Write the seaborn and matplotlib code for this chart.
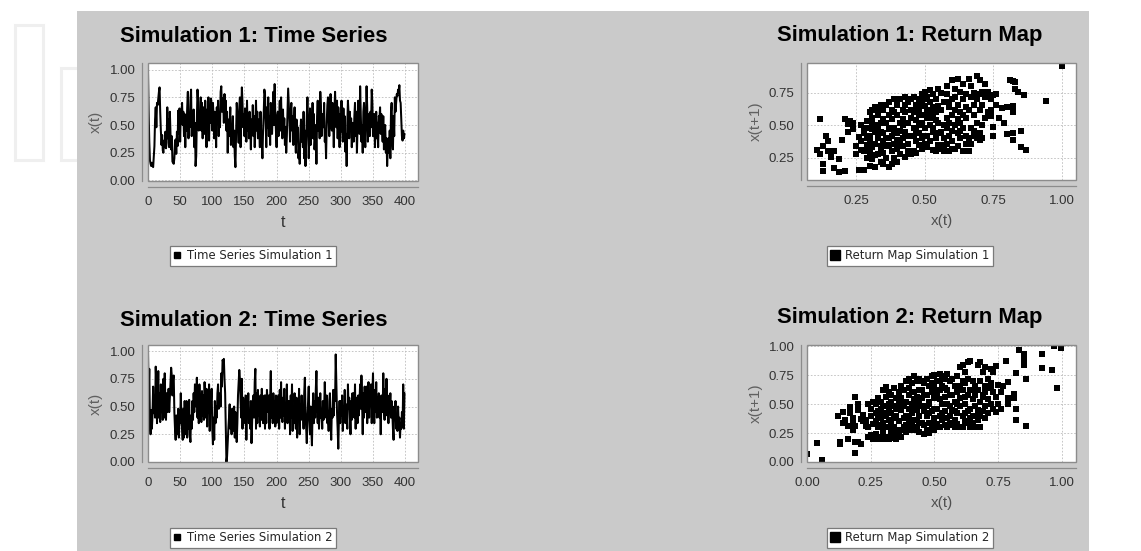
import numpy as np
import pandas as pd
import seaborn as sns
import matplotlib
matplotlib.use("Agg")
import matplotlib.pyplot as plt
from matplotlib.patches import Rectangle
from matplotlib.lines import Line2D

# ---------------- data ----------------
sim1_ts = [
    .98, .62, .35, .18, .15, .13, .16, .14, .12, .22, .31, .55, .66, .48, .70, .68, .74, .80, .84, .62,
    .45, .32, .41, .27, .25, .36, .30, .44, .29, .34, .66, .38, .55, .30, .62, .42, .28, .40, .17, .16,
    .15, .20, .35, .37, .24, .44, .31, .63, .42, .65, .35, .62, .56, .70, .50, .62, .40, .60, .30, .58,
    .45, .66, .80, .38, .60, .48, .72, .82, .40, .58, .44, .64, .30, .52, .13, .22, .55, .82, .70, .45,
    .62, .52, .75, .45, .70, .38, .66, .58, .42, .72, .55, .30, .64, .48, .75, .36, .60, .52, .74, .66,
    .45, .70, .58, .38, .62, .52, .30, .66, .55, .72, .40, .60, .48, .80, .85, .62, .74, .70, .52, .78,
    .60, .72, .45, .62, .25, .55, .40, .50, .66, .32, .48, .42, .58, .30, .45, .22, .12, .40, .70, .60,
    .52, .34, .66, .75, .30, .58, .84, .70, .48, .60, .40, .65, .55, .35, .72, .45, .60, .38, .62, .50,
    .28, .55, .42, .68, .40, .58, .30, .52, .72, .45, .62, .38, .55, .48, .30, .62, .42, .35, .20, .45,
    .60, .82, .78, .52, .30, .66, .48, .75, .40, .58, .32, .70, .55, .42, .62, .80, .50, .87, .60, .45,
    .30, .58, .62, .40, .55, .72, .45, .75, .50, .38, .64, .42, .56, .32, .48, .25, .40, .62, .83, .70,
    .55, .35, .62, .70, .45, .58, .32, .52, .66, .42, .25, .55, .38, .48, .20, .30, .15, .42, .55, .35,
    .52, .30, .62, .20, .45, .13, .35, .58, .75, .50, .20, .40, .65, .32, .55, .45, .70, .38, .60, .28,
    .40, .50, .15, .58, .72, .45, .62, .38, .80, .66, .40, .55, .60, .48, .70, .35, .42, .20, .52, .68,
    .75, .55, .40, .62, .78, .50, .45, .70, .55, .30, .62, .80, .58, .48, .72, .38, .66, .55, .30, .60,
    .44, .72, .50, .35, .65, .40, .58, .26, .42, .13, .50, .72, .60, .38, .62, .48, .56, .30, .52, .44,
    .35, .58, .70, .40, .62, .25, .48, .72, .55, .42, .85, .60, .35, .50, .25, .62, .70, .45, .30, .58,
    .85, .66, .35, .52, .60, .40, .62, .48, .82, .70, .40, .55, .60, .30, .45, .62, .38, .52, .30, .58,
    .55, .66, .42, .60, .48, .35, .58, .28, .45, .50, .25, .38, .13, .30, .38, .25, .45, .20, .62, .70,
    .35, .28, .58, .40, .75, .62, .70, .78, .76, .82, .80, .86, .72, .70, .55, .40, .36, .45, .38, .42,
]
sim2_ts = [
    .99, .62, .84, .35, .25, .47, .30, .42, .68, .44, .58, .40, .86, .70, .35, .55, .82, .40, .62, .36,
    .70, .45, .58, .38, .75, .40, .80, .55, .38, .62, .45, .52, .66, .45, .58, .70, .85, .78, .60, .75,
    .78, .45, .30, .20, .42, .30, .25, .48, .22, .40, .35, .62, .40, .30, .20, .48, .22, .55, .35, .25,
    .55, .22, .48, .30, .56, .25, .18, .42, .30, .55, .38, .62, .45, .70, .66, .50, .76, .40, .65, .35,
    .70, .45, .58, .36, .64, .42, .60, .38, .72, .55, .40, .66, .32, .58, .45, .70, .28, .62, .55, .66,
    .30, .16, .40, .20, .55, .35, .50, .40, .62, .70, .48, .55, .62, .50, .80, .68, .92, .90, .93, .75,
    .62, .30, .00, .05, .18, .30, .40, .52, .30, .45, .25, .48, .28, .40, .50, .22, .45, .30, .18, .35,
    .60, .72, .83, .75, .55, .40, .75, .30, .58, .45, .55, .35, .60, .20, .50, .40, .62, .35, .45, .30,
    .55, .17, .35, .55, .60, .40, .72, .84, .30, .62, .35, .65, .42, .58, .32, .60, .38, .66, .45, .35,
    .40, .60, .30, .60, .35, .65, .55, .45, .60, .30, .55, .82, .40, .58, .35, .62, .42, .55, .32, .60,
    .35, .55, .42, .60, .30, .65, .40, .72, .45, .36, .58, .42, .66, .30, .52, .40, .70, .35, .55, .45,
    .55, .25, .60, .40, .70, .28, .50, .35, .62, .45, .30, .58, .22, .48, .40, .66, .25, .52, .38, .60,
    .42, .50, .30, .62, .76, .45, .30, .17, .40, .55, .68, .38, .25, .50, .30, .15, .45, .62, .35, .55,
    .40, .65, .82, .50, .35, .58, .30, .45, .62, .40, .45, .30, .55, .38, .48, .72, .52, .40, .60, .35,
    .45, .28, .55, .62, .35, .20, .48, .40, .65, .42, .65, .55, .97, .70, .45, .30, .12, .40, .55, .35,
    .55, .42, .60, .28, .50, .40, .65, .35, .52, .45, .30, .70, .48, .58, .40, .25, .55, .38, .62, .45,
    .62, .40, .70, .30, .58, .45, .35, .60, .42, .55, .70, .48, .78, .55, .25, .62, .40, .68, .45, .52,
    .68, .35, .58, .72, .40, .62, .55, .70, .35, .60, .80, .50, .35, .65, .45, .72, .40, .58, .48, .62,
    .40, .55, .25, .60, .52, .45, .80, .52, .38, .66, .45, .75, .42, .60, .35, .58, .48, .62, .40, .55,
    .45, .30, .20, .50, .38, .55, .30, .42, .28, .50, .35, .40, .22, .35, .30, .45, .32, .70, .30, .62,
]

rm1_x = [
    .12, .11, .12, .13, .13, .13, .14, .15, .15, .16, .17, .17, .19, .19, .20, .21, .21, .22, .22, .23, .24, .24, .25, .25, .26,
    .27, .27, .28, .28, .28, .29, .29, .29, .30, .30, .30, .30, .31, .31, .31, .31, .32, .32, .32, .32, .33, .33, .33, .33,
    .34, .34, .34, .34, .35, .35, .35, .35, .28, .29, .30, .31, .32, .33, .34, .35, .26, .27, .29, .30, .31, .33, .34, .35,
    .36, .36, .36, .36, .37, .37, .37, .37, .37, .38, .38, .38, .38, .38, .39, .39, .39, .39, .40, .40,
    .40, .40, .40, .41, .41, .41, .41, .42, .42, .42, .42, .43, .43, .43, .43, .44, .44, .44, .44, .45,
    .45, .45, .45, .36, .37, .38, .39, .40, .41, .42, .43, .44, .45, .39, .41,
    .46, .46, .46, .46, .47, .47, .47, .47, .48, .48, .48, .48, .48, .49, .49, .49, .49, .50, .50, .50,
    .50, .50, .51, .51, .51, .51, .52, .52, .52, .52, .53, .53, .53, .53, .54, .54, .54, .54, .55, .55,
    .55, .55, .46, .47, .48, .49, .50, .51, .52, .53, .54, .55, .47, .50, .53,
    .56, .56, .56, .56, .57, .57, .57, .57, .58, .58, .58, .58, .59, .59, .59, .59, .60, .60, .60, .60,
    .60, .61, .61, .61, .61, .62, .62, .62, .62, .63, .63, .63, .63, .64, .64, .64, .64, .65, .65, .65,
    .65, .58, .60, .62, .64, .57, .61, .63, .65, .59,
    .66, .66, .66, .66, .67, .67, .67, .67, .68, .68, .68, .68, .69, .69, .69, .69, .70, .70, .70, .70,
    .71, .71, .71, .71, .72, .72, .72, .73, .73, .73, .74, .74, .74, .75, .75, .75, .76, .76, .68, .70,
    .78, .80, .81, .82, .83, .82, .80, .82, .82, .85, .85, .87, .83, .84, .86, .82, .94, 1.0, .77, .79,
]
rm1_y = [
    .55, .31, .28, .34, .20, .15, .42, .38, .30, .26, .30, .17, .24, .14, .39, .15, .55, .51, .45, .53, .52, .47, .34, .28, .16,
    .50, .38, .16, .30, .44, .25, .48, .35, .60, .19, .42, .28, .62, .33, .52, .24, .64, .45, .36, .18, .58, .40, .28, .50,
    .66, .30, .45, .22, .62, .38, .55, .20, .48, .40, .32, .56, .27, .46, .34, .44, .41, .31, .53, .37, .47, .61, .52, .29,
    .66, .40, .25, .52, .68, .35, .18, .47, .58, .20, .42, .62, .30, .55, .36, .70, .25, .48, .66, .32,
    .44, .58, .22, .38, .70, .52, .28, .62, .40, .34, .55, .72, .45, .26, .60, .68, .36, .52, .30, .70,
    .42, .62, .28, .34, .40, .48, .44, .39, .46, .50, .66, .42, .56, .60, .35,
    .72, .48, .30, .60, .66, .38, .54, .29, .70, .44, .58, .35, .62, .74, .40, .52, .32, .76, .48, .36,
    .65, .58, .72, .42, .62, .33, .68, .50, .38, .77, .74, .45, .56, .31, .70, .40, .60, .30, .78, .52,
    .65, .35, .42, .62, .50, .66, .42, .56, .60, .48, .54, .44, .46, .70, .64,
    .75, .45, .32, .62, .68, .50, .30, .40, .74, .56, .36, .80, .64, .42, .30, .52, .85, .70, .38, .46,
    .58, .78, .32, .62, .50, .86, .44, .66, .34, .76, .52, .40, .60, .82, .30, .70, .48, .74, .56, .36,
    .64, .48, .32, .55, .58, .35, .72, .46, .42, .68,
    .86, .62, .40, .30, .72, .48, .36, .80, .66, .42, .58, .75, .88, .52, .40, .70, .74, .44, .62, .85,
    .76, .50, .40, .66, .82, .72, .56, .74, .60, .76, .70, .57, .62, .73, .49, .42, .74, .66, .46, .39,
    .63, .64, .85, .84, .83, .60, .43, .44, .39, .46, .33, .31, .78, .76, .73, .65, .69, .955, .56, .52,
]

rm2_x = [
    .00, .04, .06, .19, .13, .13, .16, .19, .20, .21, .12, .14, .14,
    .16, .18, .17, .19, .20, .19, .22, .23, .24, .25, .17, .18, .21, .22, .24, .25, .26, .23, .20, .26, .15, .18, .24, .25, .26,
    .27, .27, .27, .28, .28, .28, .28, .29, .29, .29, .29, .30, .30, .30, .30, .30, .31, .31, .31, .31,
    .32, .32, .32, .32, .32, .33, .33, .33, .33, .34, .34, .34, .34, .35, .35, .35, .35, .36, .36, .36,
    .36, .28, .29, .30, .31, .32, .33, .34, .35, .36, .27, .30, .33, .34, .31,
    .37, .37, .37, .37, .38, .38, .38, .38, .39, .39, .39, .39, .40, .40, .40, .40, .40, .41, .41, .41,
    .41, .42, .42, .42, .42, .43, .43, .43, .43, .44, .44, .44, .44, .45, .45, .45, .45, .46, .46, .46,
    .46, .38, .40, .42, .44, .46, .39, .41, .43, .45, .37, .42, .44, .40, .43,
    .47, .47, .47, .47, .48, .48, .48, .48, .49, .49, .49, .49, .50, .50, .50, .50, .50, .51, .51, .51,
    .51, .52, .52, .52, .52, .53, .53, .53, .53, .54, .54, .54, .54, .55, .55, .55, .55, .56, .56, .56,
    .56, .48, .50, .52, .54, .56, .47, .49, .51, .53, .55, .50, .52, .54, .48,
    .57, .57, .57, .57, .58, .58, .58, .58, .59, .59, .59, .59, .60, .60, .60, .60, .61, .61, .61, .61,
    .62, .62, .62, .62, .62, .63, .63, .63, .63, .64, .64, .64, .64, .65, .65, .65, .65, .66, .66, .66,
    .66, .58, .60, .62, .64, .66, .59, .61, .63, .65,
    .67, .67, .67, .67, .68, .68, .68, .68, .69, .69, .69, .70, .70, .70, .70, .71, .71, .71, .72, .72,
    .72, .73, .73, .73, .74, .74, .74, .75, .75, .76, .76, .68, .70, .72, .69,
    .77, .78, .79, .79, .79, .81, .81, .82, .82, .82, .83, .85, .85, .85, .86, .86, .92, .92, .96, .97, .995, .98,
]
rm2_y = [
    .07, .16, .02, .08, .155, .17, .20, .175, .17, .155, .40, .43, .34,
    .31, .38, .475, .557, .50, .31, .41, .31, .50, .23, .42, .33, .37, .35, .30, .40, .20, .36, .45, .33, .36, .28, .22, .46, .52,
    .35, .50, .24, .44, .30, .20, .55, .38, .52, .22, .46, .62, .34, .20, .48, .28, .65, .40, .22, .56,
    .60, .30, .45, .20, .36, .52, .26, .42, .58, .64, .22, .38, .48, .55, .28, .20, .46, .60, .35, .24,
    .50, .40, .32, .42, .30, .50, .35, .30, .40, .22, .42, .26, .21, .26, .48,
    .66, .45, .28, .55, .62, .30, .48, .38, .70, .26, .52, .40, .72, .35, .58, .28, .46, .68, .32, .50,
    .42, .74, .36, .60, .28, .70, .45, .56, .30, .72, .40, .62, .26, .70, .34, .55, .48, .68, .32, .58,
    .24, .52, .40, .46, .52, .44, .32, .60, .36, .62, .22, .54, .34, .64, .50,
    .72, .40, .28, .58, .66, .34, .50, .25, .74, .44, .30, .60, .75, .38, .55, .28, .66, .70, .46, .33,
    .58, .76, .40, .62, .30, .74, .50, .36, .66, .72, .32, .56, .44, .76, .38, .62, .30, .70, .48, .34,
    .58, .52, .46, .54, .64, .40, .48, .68, .62, .42, .50, .34, .70, .38, .42,
    .72, .45, .32, .58, .66, .36, .52, .30, .74, .42, .60, .33, .82, .55, .30, .66, .84, .40, .62, .30,
    .78, .50, .35, .68, .42, .86, .58, .34, .72, .87, .46, .62, .30, .70, .40, .54, .34, .66, .48, .30,
    .58, .44, .48, .56, .38, .40, .50, .70, .44, .62,
    .84, .62, .45, .36, .86, .70, .52, .40, .78, .58, .44, .82, .66, .48, .60, .72, .54, .42, .80, .64,
    .50, .78, .60, .46, .825, .43, .56, .665, .50, .46, .60, .30, .38, .68, .56,
    .66, .87, .69, .55, .50, .55, .59, .46, .36, .77, .97, .88, .93, .84, .72, .315, .933, .81, .796, 1.0, .985, .636,
]

titles = ["Simulation 1: Time Series", "Simulation 1: Return Map",
          "Simulation 2: Time Series", "Simulation 2: Return Map"]
legend_labels = ["Time Series Simulation 1", "Return Map Simulation 1",
                 "Time Series Simulation 2", "Return Map Simulation 2"]
ts_xticks = [0, 50, 100, 150, 200, 250, 300, 350, 400]
unit_ticks = [0.0, 0.25, 0.5, 0.75, 1.0]

# ---------------- style ----------------
sns.set_style("white")
plt.rcParams['font.family'] = ['Liberation Sans', 'DejaVu Sans']

W, H = 1141, 551
fig = plt.figure(figsize=(W / 100, H / 100), dpi=100)
fig.patch.set_facecolor('white')

# faint watermark outlines outside the panel
wm = dict(transform=fig.transFigure, fill=False, edgecolor='#efefef', lw=2.2, zorder=-20)
fig.patches.append(Rectangle((15 / W, 1 - 160 / H), 28 / W, 135 / H, **wm))
fig.patches.append(Rectangle((61 / W, 1 - 160 / H), 20 / W, 92 / H, **wm))

# gray chart panel
fig.patches.append(Rectangle((77 / W, 0), (1089 - 77) / W, 1 - 11 / H,
                             transform=fig.transFigure, facecolor='#cacaca',
                             edgecolor='none', zorder=-10))

GRAY = '#8c8c8c'


def px_axes(l, t, r, b):
    return fig.add_axes([l / W, 1 - b / H, (r - l) / W, (b - t) / H])


def style(ax, xticks, yticks, xlim, ylim, xfmt):
    ax.set_facecolor('white')
    ax.set_xlim(xlim)
    ax.set_ylim(ylim)
    ax.set_xticks(xticks)
    ax.set_yticks(yticks)
    ax.set_xticklabels([xfmt(v) for v in xticks])
    ax.set_yticklabels([f"{v:.2f}" for v in yticks])
    ax.grid(True, color='#bdbdbd', linestyle=(0, (2, 2)), linewidth=0.6)
    ax.set_axisbelow(True)
    for s in ['top', 'right']:
        ax.spines[s].set_visible(False)
    for s in ['left', 'bottom']:
        ax.spines[s].set_position(('outward', 4))
        ax.spines[s].set_color(GRAY)
        ax.spines[s].set_linewidth(0.9)
    ax.add_patch(Rectangle((0, 0), 1, 1, transform=ax.transAxes, fill=False,
                           edgecolor=GRAY, lw=1.0, clip_on=False, zorder=5))
    ax.tick_params(direction='out', length=2, width=0.8, color=GRAY,
                   labelsize=9.5, labelcolor='#333333', pad=3)
    ax.tick_params(axis='x', pad=5)


axes = [
    px_axes(148, 63, 418, 181),
    px_axes(807, 63, 1076, 180),
    px_axes(148, 345, 418, 462),
    px_axes(807, 345, 1076, 462),
]

# time series
for ax, series, ylim in [(axes[0], sim1_ts, (-0.005, 1.06)), (axes[2], sim2_ts, (0.0, 1.055))]:
    df = pd.DataFrame({"t": np.arange(len(series)), "x": series})
    sns.lineplot(data=df, x="t", y="x", ax=ax, color='black', linewidth=1.45,
                 estimator=None, sort=False, zorder=3)
    style(ax, ts_xticks, unit_ticks, (0, 420), ylim, lambda v: f"{v:d}")
    ax.set_xlabel("t", fontsize=11.5, color='#303030', labelpad=5)
    ax.set_ylabel("x(t)", fontsize=11, color='#606060', labelpad=5)

# return maps
for ax, xs, ys, xt, yt, xlim, ylim in [
    (axes[1], rm1_x, rm1_y, [0.25, 0.5, 0.75, 1.0], [0.25, 0.5, 0.75], (0.072, 1.051), (0.08, 0.98)),
    (axes[3], rm2_x, rm2_y, unit_ticks, unit_ticks, (0.0, 1.055), (0.0, 1.01)),
]:
    df = pd.DataFrame({"xt": xs, "xt1": ys})
    sns.scatterplot(data=df, x="xt", y="xt1", ax=ax, color='black', marker='s',
                    s=16, linewidth=0, zorder=3)
    style(ax, xt, yt, xlim, ylim, lambda v: f"{v:.2f}")
    ax.set_xlabel("x(t)", fontsize=11, color='#505050', labelpad=5)
    ax.set_ylabel("x(t+1)", fontsize=11, color='#606060', labelpad=4)

# titles
for (cx, cy), title in zip([(254, 36), (910, 36), (254, 320), (910, 318)], titles):
    fig.text(cx / W, 1 - cy / H, title, ha='center', va='center',
             fontsize=15.8, fontweight='bold', color='black')

# legends
for (cx, cy), lab, ms in zip([(253, 255.5), (910, 255.5), (253, 537.5), (910, 537.5)],
                             legend_labels, [4.5, 7.0, 4.5, 7.0]):
    h = Line2D([], [], marker='s', linestyle='', color='black', markersize=ms)
    leg = fig.legend(handles=[h], labels=[lab], loc='center',
                     bbox_to_anchor=(cx / W, 1 - cy / H), frameon=True, fancybox=False,
                     edgecolor='#7a7a7a', facecolor='white', framealpha=1,
                     prop={'family': 'DejaVu Sans', 'size': 8.4},
                     handlelength=0.7, handletextpad=0.5, borderpad=0.3,
                     borderaxespad=0)
    leg.get_frame().set_linewidth(0.9)

fig.savefig("out.png", dpi=100, facecolor=fig.get_facecolor())
